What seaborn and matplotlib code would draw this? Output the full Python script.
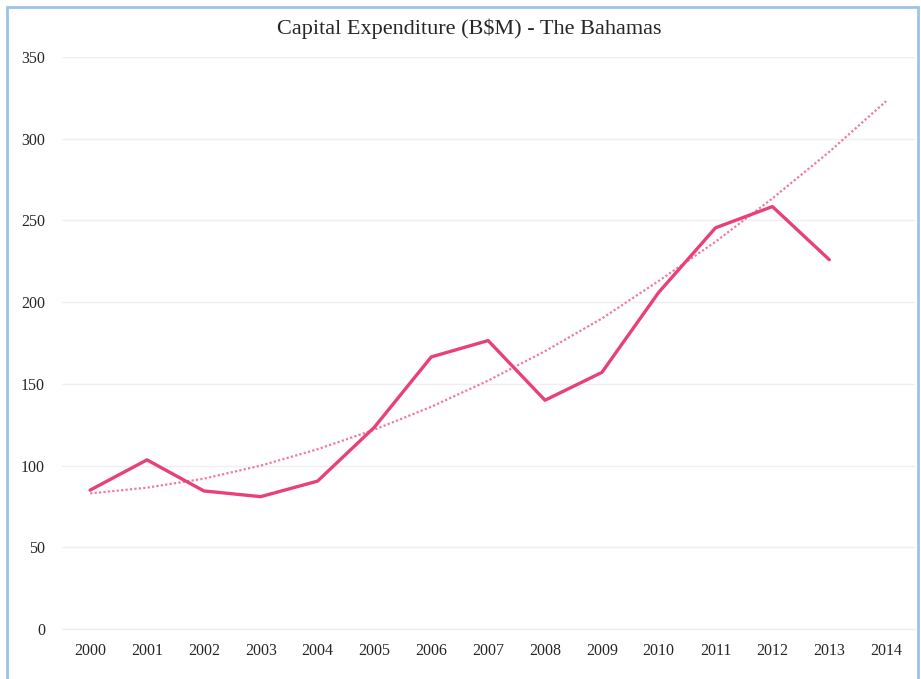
import matplotlib
matplotlib.use("Agg")
import matplotlib.pyplot as plt
import seaborn as sns
import pandas as pd
from matplotlib.patches import Rectangle

# Données
years = [str(y) for y in range(2000, 2015)]
capex = [85, 103.5, 84.5, 81, 90.5, 123.5, 166.5, 176.5, 140, 157, 206, 245.5, 258.5, 226, None]
trend = [83, 86.5, 92, 100, 110, 122, 136, 152, 170, 190, 213, 237, 263.5, 292, 323]

df = pd.DataFrame({"annee": years, "capex": capex, "tendance": trend})

sns.set_style("white")
plt.rcParams["font.family"] = ["Liberation Serif", "DejaVu Serif"]

fig = plt.figure(figsize=(9.21, 6.79), dpi=100)
ax = fig.add_axes([0.067, 0.0736, 0.926, 0.8424])

sns.lineplot(data=df, x="annee", y="tendance", ax=ax, color="#F07AA3",
             linewidth=1.6, linestyle=(0, (1, 1)), sort=False)
sns.lineplot(data=df, x="annee", y="capex", ax=ax, color="#E8417A",
             linewidth=2.4, sort=False)

ax.set_xlim(-0.5, 14.5)
ax.set_ylim(0, 350)
ax.set_yticks(range(0, 351, 50))
ax.grid(axis="y", color="#EFEFEF", linewidth=1)
ax.axhline(0, color="#EFEFEF", linewidth=1, zorder=0, clip_on=False)
ax.set_axisbelow(True)
for s in ax.spines.values():
    s.set_visible(False)
ax.tick_params(axis="both", length=0, labelsize=11.5, colors="#262626")
ax.tick_params(axis="y", pad=12)
ax.tick_params(axis="x", pad=10)
ax.set_xlabel("")
ax.set_ylabel("")

fig.suptitle("Capital Expenditure (B$M) - The Bahamas", x=0.51, y=0.973,
             fontsize=16, color="#262626")

# Bordure bleue du graphique
fig.patches.append(Rectangle((7 / 921, -0.05), 911 / 921, 1 - 7 / 679 + 0.05,
                             transform=fig.transFigure, fill=False,
                             edgecolor="#9DC3E6", linewidth=2))

fig.savefig("out.png", dpi=100)
